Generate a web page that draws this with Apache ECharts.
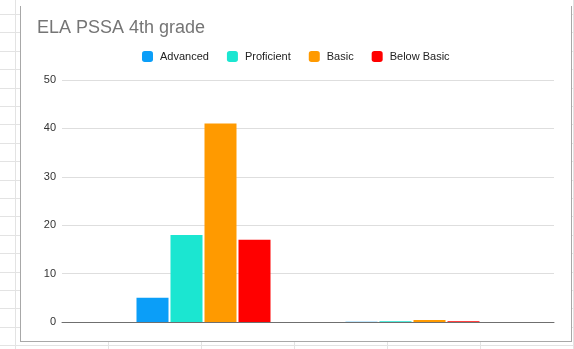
<!DOCTYPE html>
<html>
<head>
<meta charset="utf-8">
<title>ELA PSSA 4th grade</title>
<script src="https://cdn.jsdelivr.net/npm/echarts@6/dist/echarts.min.js"></script>
<style>
  html, body { margin: 0; padding: 0; }
  body { width: 574px; height: 349px; overflow: hidden; position: relative; background: #fff; }
  .sheet-line { position: absolute; background: #e3e3e3; }
  #frame {
    position: absolute; left: 20px; top: 6px; width: 552px; height: 336px;
    box-sizing: border-box; background: #fff;
    border-left: 1px solid #a8a8a8; border-right: 1px solid #a8a8a8; border-bottom: 1px solid #a8a8a8;
  }
  #chart { position: absolute; left: 0; top: 0; width: 574px; height: 349px; }
</style>
</head>
<body>
<div id="frame"></div>
<div id="chart"></div>
<script>
// Chart data
const title = 'ELA PSSA 4th grade';
const categories = ['', ''];
const seriesNames = ['Advanced', 'Proficient', 'Basic', 'Below Basic'];
const advanced = [5, 0.05];
const proficient = [18, 0.18];
const basic = [41, 0.41];
const belowBasic = [17, 0.17];
const yTicks = [0, 10, 20, 30, 40, 50];

const seriesValues = [advanced, proficient, basic, belowBasic];
const colors = ['#0b9ef8', '#1be6d1', '#ff9a00', '#ff0000'];

// Spreadsheet cell lines around the chart card
(function drawSheet() {
  function line(x, y, w, h) {
    const d = document.createElement('div');
    d.className = 'sheet-line';
    d.style.left = x + 'px'; d.style.top = y + 'px';
    d.style.width = w + 'px'; d.style.height = h + 'px';
    document.body.insertBefore(d, document.body.firstChild);
  }
  for (let y = 14; y < 349; y += 18.4) line(0, Math.round(y), 574, 1);
  line(15, 0, 1, 349);
  line(573, 0, 1, 349);
  for (let x = 108; x < 574; x += 93) line(Math.round(x), 342, 1, 7);
})();

const chart = echarts.init(document.getElementById('chart'), null, { renderer: 'canvas' });
const font = "'Liberation Sans', Arial, sans-serif";
const yMax = yTicks[yTicks.length - 1];
const yStep = yTicks[1] - yTicks[0];

chart.setOption({
  backgroundColor: 'transparent',
  animation: false,
  textStyle: { fontFamily: font },
  title: {
    text: title,
    left: 37,
    top: 19,
    padding: 0,
    textStyle: { fontFamily: font, fontSize: 18, fontWeight: 'normal', color: '#757575' }
  },
  legend: {
    data: seriesNames,
    left: 142,
    top: 51,
    padding: 0,
    icon: 'roundRect',
    itemWidth: 11,
    itemHeight: 11,
    itemGap: 18,
    textStyle: { fontFamily: font, fontSize: 11, color: '#222', padding: [0, 0, 0, 2] }
  },
  grid: [
    { left: 62, right: 20, top: 80, bottom: 27 },
    { left: 99, right: 57, top: 80, bottom: 27 }
  ],
  xAxis: [
    {
      gridIndex: 0, type: 'category', data: [''], z: 5,
      axisLine: { lineStyle: { color: '#6f6f6f', width: 1 } },
      axisTick: { show: false }, axisLabel: { show: false }
    },
    {
      gridIndex: 1, type: 'category', data: categories,
      axisLine: { show: false }, axisTick: { show: false }, axisLabel: { show: false }
    }
  ],
  yAxis: [
    {
      gridIndex: 0, type: 'value', min: yTicks[0], max: yMax, interval: yStep,
      axisLine: { show: false }, axisTick: { show: false },
      axisLabel: { fontFamily: font, fontSize: 11, color: '#333', margin: 6 },
      splitLine: { lineStyle: { color: '#dedede', width: 1 } }
    },
    {
      gridIndex: 1, type: 'value', min: yTicks[0], max: yMax, interval: yStep,
      axisLine: { show: false }, axisTick: { show: false },
      axisLabel: { show: false }, splitLine: { show: false }
    }
  ],
  series: seriesNames.map((name, i) => ({
    name: name,
    type: 'bar',
    xAxisIndex: 1,
    yAxisIndex: 1,
    data: seriesValues[i],
    barWidth: 32,
    barGap: '6.25%',
    itemStyle: { color: colors[i] }
  }))
});
</script>
</body>
</html>
